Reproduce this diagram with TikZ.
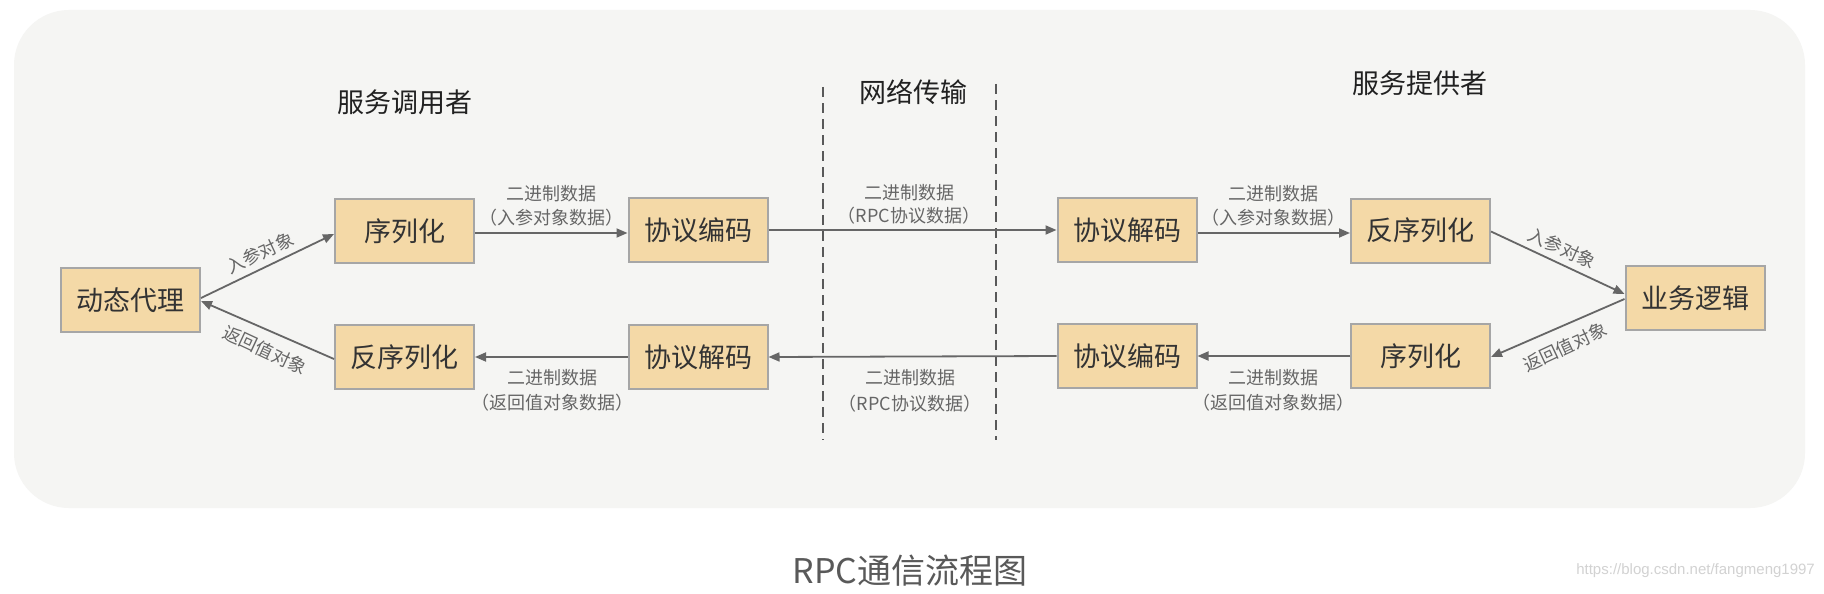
\documentclass[tikz,border=0pt]{standalone}
\usepackage{fontspec}
\setmainfont{Noto Sans CJK SC}
\newfontfamily\wmfont{Liberation Sans}
\usetikzlibrary{arrows.meta,calc}
\definecolor{bgc}{HTML}{F5F5F3}
\definecolor{boxfill}{HTML}{F4D9A7}
\definecolor{boxline}{HTML}{A6A6A6}
\definecolor{arrc}{HTML}{666666}
\definecolor{lblc}{HTML}{666666}
\definecolor{txtc}{HTML}{333333}
\definecolor{capc}{HTML}{595959}
\definecolor{wmc}{HTML}{D2D2D2}
\tikzset{
  stepbox/.style={draw=boxline, line width=2pt, fill=boxfill, minimum width=139pt, minimum height=64pt, inner sep=0pt, text=txtc, font=\fontsize{27}{30}\selectfont},
  conn/.style={draw=arrc, line width=1.8pt, -{Triangle[length=11pt,width=9pt]}},
  lbl/.style={text=lblc, font=\fontsize{18}{20}\selectfont, inner sep=0pt},
  head/.style={text=black!87, font=\fontsize{27}{30}\selectfont, inner sep=0pt},
  divider/.style={draw=black!65, line width=2pt, dash pattern=on 10pt off 6pt}
}
\begin{document}
\begin{tikzpicture}[x=1pt,y=-1pt]
\useasboundingbox (0,0) rectangle (1824,594);
\fill[white] (0,0) rectangle (1824,594);
\fill[bgc, rounded corners=55pt] (14,10) rectangle (1805,508);

% headings
\node[head] (h1) at (405,102) {服务调用者};
\node[head] (h2) at (913,92) {网络传输};
\node[head] (h3) at (1420,83) {服务提供者};

% dividers
\coordinate (d1t) at (823,87);
\coordinate (d1b) at (823,440);
\coordinate (d2t) at (996,84);
\coordinate (d2b) at (996,440);
\draw[divider] (d1t) -- (d1b);
\draw[divider] (d2t) -- (d2b);

% boxes
\node[stepbox] (dl) at (130.5,300) {动态代理};
\node[stepbox] (serL) at (404.5,231) {序列化};
\node[stepbox] (deserL) at (404.5,357) {反序列化};
\node[stepbox] (encL) at (698,230) {协议编码};
\node[stepbox] (decL) at (698,357) {协议解码};
\node[stepbox] (decR) at (1127,230) {协议解码};
\node[stepbox] (encR) at (1127,356) {协议编码};
\node[stepbox] (deserR) at (1420.5,230.5) {反序列化};
\node[stepbox] (serR) at (1420.5,356) {序列化};
\node[stepbox] (bl) at (1695,298) {业务逻辑};

% connectors
\draw[conn] ($(dl.east)+(0,-2)$) -- ($(serL.west)+(0,3)$);
\draw[conn] ($(deserL.west)+(0,2)$) -- ($(dl.east)+(0,1)$);
\draw[conn] ($(serL.east)+(0,2)$) -- ($(encL.west)+(0,3)$);
\draw[conn] (encL.east) -- (decR.west);
\draw[conn] ($(decR.east)+(0,3)$) -- ($(deserR.west)+(0,2.5)$);
\draw[conn] ($(deserR.east)+(0,1)$) -- ($(bl.west)+(0,-4)$);
\draw[conn] ($(bl.west)+(0,1)$) -- ($(serR.east)+(0,1)$);
\draw[conn] (serR.west) -- (encR.east);
\draw[conn] (encR.west) -- (decL.east);
\draw[conn] (decL.west) -- (deserL.east);

% labels
\node[lbl, rotate=25] (l1) at (260,253) {入参对象};
\node[lbl, rotate=-25] (l2) at (265,350) {返回值对象};
\node[lbl, rotate=-25] (l3) at (1562,248) {入参对象};
\node[lbl, rotate=25] (l4) at (1565,347) {返回值对象};

\node[lbl] (t1a) at (551,194) {二进制数据};
\node[lbl] (t1b) at (551,218) {（入参对象数据）};
\node[lbl] (t2a) at (909,193) {二进制数据};
\node[lbl] (t2b) at (909,216) {（RPC协议数据）};
\node[lbl] (t3a) at (1273,194) {二进制数据};
\node[lbl] (t3b) at (1273,218) {（入参对象数据）};

\node[lbl] (b1a) at (552,378) {二进制数据};
\node[lbl] (b1b) at (552,403) {（返回值对象数据）};
\node[lbl] (b2a) at (910,378) {二进制数据};
\node[lbl] (b2b) at (910,404) {（RPC协议数据）};
\node[lbl] (b3a) at (1273,378) {二进制数据};
\node[lbl] (b3b) at (1273,403) {（返回值对象数据）};

% caption and watermark
\node[text=capc, font=\fontsize{34}{38}\selectfont, inner sep=0pt] (cap) at (910,571) {RPC通信流程图};
\node[text=wmc, font=\wmfont\fontsize{15}{17}\selectfont, inner sep=0pt, anchor=east] (wm) at (1815,571) {https://blog.csdn.net/fangmeng1997};
\end{tikzpicture}
\end{document}
